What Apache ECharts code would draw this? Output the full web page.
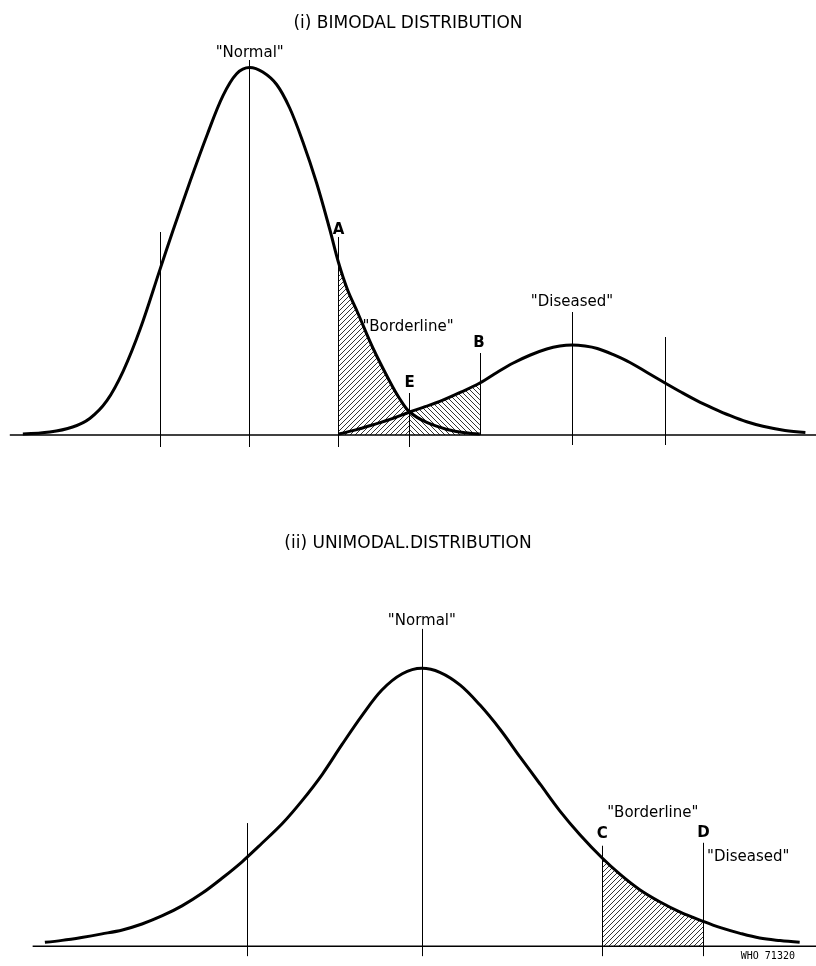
<!DOCTYPE html>
<html>
<head>
<meta charset="utf-8">
<script src="https://cdn.jsdelivr.net/npm/echarts@6/dist/echarts.min.js"></script>
<style>
  html, body { margin: 0; padding: 0; background: #fff; }
  #chart { width: 816px; height: 966px; }
</style>
</head>
<body>
<div id="chart"></div>
<script>
// (i) bimodal panel - x in test units (0..100 across the page), y in frequency units
const topNormalX = [2.8, 6.1, 8.9, 11.0, 13.1, 15.1, 17.2, 19.6, 21.2, 23.3, 25.4, 27.3, 29.0, 30.6, 32.2, 33.9, 35.5, 37.1, 38.8, 40.4, 41.5, 42.6, 43.8, 45.7, 47.8, 49.0, 50.2, 52.3, 54.8, 57.0, 58.8]
const topNormalY = [0.25, 0.73, 2, 4.13, 8.58, 15.98, 26.6, 41.35, 51.1, 63.43, 75.13, 84.73, 90.33, 91.88, 90.75, 87.63, 81.75, 73.38, 63, 51.5, 43, 36.25, 30.75, 21.75, 13.25, 9, 5.75, 3.13, 1.38, 0.55, 0.25]
const topDiseasedX = [41.5, 43.6, 45.7, 47.8, 50.2, 52.1, 53.9, 56.4, 58.8, 60.9, 62.9, 65.0, 67.0, 68.6, 70.1, 71.7, 73.2, 75.1, 77.2, 79.3, 81.5, 83.5, 85.4, 87.4, 89.5, 91.5, 93.5, 96.2, 98.7]
const topDiseasedY = [0.25, 1.28, 2.55, 3.9, 5.75, 7.08, 8.38, 10.63, 13, 15.63, 18, 20, 21.5, 22.25, 22.5, 22.25, 21.63, 20.13, 18.13, 15.63, 13, 10.68, 8.6, 6.68, 4.83, 3.3, 2.18, 1.13, 0.63]
const topCutA = 41.5, topCutE = 50.2, topCutB = 58.8
const topGuideX = [19.6, 30.6, 41.5, 50.2, 58.8, 70.1, 81.5]
const topGuideTop = [50.75, 93.75, 49.5, 10.5, 20.5, 30.75, 24.5]
const topGuideBottom = [-3, -3, -3, -3, 0, -2.5, -2.5]
const topBaseX = [1.2, 100]
const topLabels = ['"Normal"', 'A', '"Borderline"', 'E', 'B', '"Diseased"']
const topLabelX = [30.6, 41.5, 50.0, 50.2, 58.7, 70.1]
const topLabelY = [95.5, 51.25, 27, 13, 23, 33.25]

// (ii) unimodal panel
const botNormalX = [5.5, 7.6, 10.0, 12.5, 15.0, 17.4, 19.9, 22.3, 24.8, 27.2, 29.7, 32.1, 34.6, 37.0, 39.5, 41.9, 44.4, 46.8, 49.3, 51.7, 53.9, 56.4, 58.8, 61.3, 63.7, 66.2, 68.6, 71.1, 73.8, 76.0, 78.4, 80.9, 83.3, 86.2, 88.2, 90.7, 93.1, 95.6, 98.0]
const botNormalY = [1, 1.5, 2.25, 3.15, 4.15, 5.65, 7.75, 10.25, 13.5, 17.25, 21.5, 26.13, 31.13, 36.88, 43.63, 51.13, 58.63, 65, 69.13, 70.5, 69.48, 66.23, 61.23, 54.98, 48.1, 41.1, 34.35, 28.23, 22.38, 18.23, 14.35, 11.23, 8.73, 6.3, 4.78, 3.28, 2.1, 1.45, 1]
const botCutC = 73.8, botCutD = 86.2
const botGuideX = [30.3, 51.7, 73.8, 86.2]
const botGuideTop = [31.25, 80.5, 25.5, 26.25]
const botGuideBottom = [-2.5, -2.5, -2.5, -2.5]
const botBaseX = [4.0, 100]
const botLabels = ['"Normal"', '"Borderline"', 'C', 'D', '"Diseased"', 'WHO 71320']
const botLabelX = [51.7, 80.0, 73.8, 86.2, 91.7, 94.1]
const botLabelY = [82.5, 33.75, 28.5, 28.75, 22.5, -2.5]

const font = 'DejaVu Sans'
const letters = ['A', 'B', 'C', 'D', 'E']
const smoothness = 0.35

const hatch = (dir) => {
    const c = document.createElement('canvas')
    c.width = 5
    c.height = 5
    const g = c.getContext('2d')
    g.strokeStyle = '#000'
    g.lineWidth = 0.8
    g.beginPath()
    if (dir > 0) {
        g.moveTo(0, 5); g.lineTo(5, 0)
        g.moveTo(-1, 1); g.lineTo(1, -1)
        g.moveTo(4, 6); g.lineTo(6, 4)
    } else {
        g.moveTo(0, 0); g.lineTo(5, 5)
        g.moveTo(-1, 4); g.lineTo(1, 6)
        g.moveTo(4, -1); g.lineTo(6, 1)
    }
    g.stroke()
    return { image: c, repeat: 'repeat' }
}

const pairs = (xs, ys) => xs.map((x, i) => [x, ys[i]])
const slice = (xs, ys, a, b) => pairs(xs, ys).filter(p => p[0] >= a - 1e-6 && p[0] <= b + 1e-6)

const curve = (data, idx) => ({
    type: 'line', xAxisIndex: idx, yAxisIndex: idx, data,
    smooth: smoothness, showSymbol: false, silent: true, z: 5,
    lineStyle: { color: '#000', width: 3 }
})
const shade = (data, idx, dir) => ({
    type: 'line', xAxisIndex: idx, yAxisIndex: idx, data,
    smooth: smoothness, showSymbol: false, silent: true, z: 2,
    lineStyle: { width: 0 },
    areaStyle: { color: hatch(dir), opacity: 1 }
})
const guides = (base, gx, gt, gb, idx) => ({
    type: 'line', xAxisIndex: idx, yAxisIndex: idx,
    data: base.map(x => [x, 0]), showSymbol: false, silent: true, z: 3,
    lineStyle: { color: '#000', width: 1.5 },
    markLine: {
        silent: true, symbol: ['none', 'none'], animation: false,
        label: { show: false },
        lineStyle: { color: '#000', width: 1, type: 'solid' },
        data: gx.map((x, i) => [{ coord: [x, gt[i]] }, { coord: [x, gb[i]] }])
    }
})
const labels = (txt, lx, ly, idx) => ({
    type: 'scatter', xAxisIndex: idx, yAxisIndex: idx, symbolSize: 0, silent: true, z: 6,
    clip: false,
    itemStyle: { opacity: 1 },
    data: txt.map((t, i) => ({
        value: [lx[i], ly[i]],
        label: {
            show: true, position: 'inside', formatter: t, color: '#000',
            fontFamily: t.startsWith('WHO') ? 'DejaVu Sans Mono' : font,
            fontSize: t.startsWith('WHO') ? 10 : 15,
            fontWeight: letters.includes(t) ? 'bold' : 'normal'
        }
    }))
})

const chart = echarts.init(document.getElementById('chart'))
chart.setOption({
    backgroundColor: '#fff',
    animation: false,
    title: [
        { text: '(i) BIMODAL DISTRIBUTION', left: 'center', top: 10,
          textStyle: { fontFamily: font, fontSize: 17, fontWeight: 'normal', color: '#000' } },
        { text: '(ii) UNIMODAL.DISTRIBUTION', left: 'center', top: 530,
          textStyle: { fontFamily: font, fontSize: 17, fontWeight: 'normal', color: '#000' } }
    ],
    grid: [
        { left: 0, right: 0, top: 35, height: 420 },
        { left: 0, right: 0, top: 552, height: 420 }
    ],
    xAxis: [
        { type: 'value', gridIndex: 0, min: 0, max: 100, show: false },
        { type: 'value', gridIndex: 1, min: 0, max: 100, show: false }
    ],
    yAxis: [
        { type: 'value', gridIndex: 0, min: -5, max: 100, show: false },
        { type: 'value', gridIndex: 1, min: -5, max: 100, show: false }
    ],
    series: [
        shade(slice(topNormalX, topNormalY, topCutA, topCutE), 0, 1),
        shade(slice(topDiseasedX, topDiseasedY, topCutE, topCutB), 0, -1),
        curve(pairs(topNormalX, topNormalY), 0),
        curve(pairs(topDiseasedX, topDiseasedY), 0),
        guides(topBaseX, topGuideX, topGuideTop, topGuideBottom, 0),
        labels(topLabels, topLabelX, topLabelY, 0),
        shade(slice(botNormalX, botNormalY, botCutC, botCutD), 1, 1),
        curve(pairs(botNormalX, botNormalY), 1),
        guides(botBaseX, botGuideX, botGuideTop, botGuideBottom, 1),
        labels(botLabels, botLabelX, botLabelY, 1)
    ]
})
</script>
</body>
</html>
